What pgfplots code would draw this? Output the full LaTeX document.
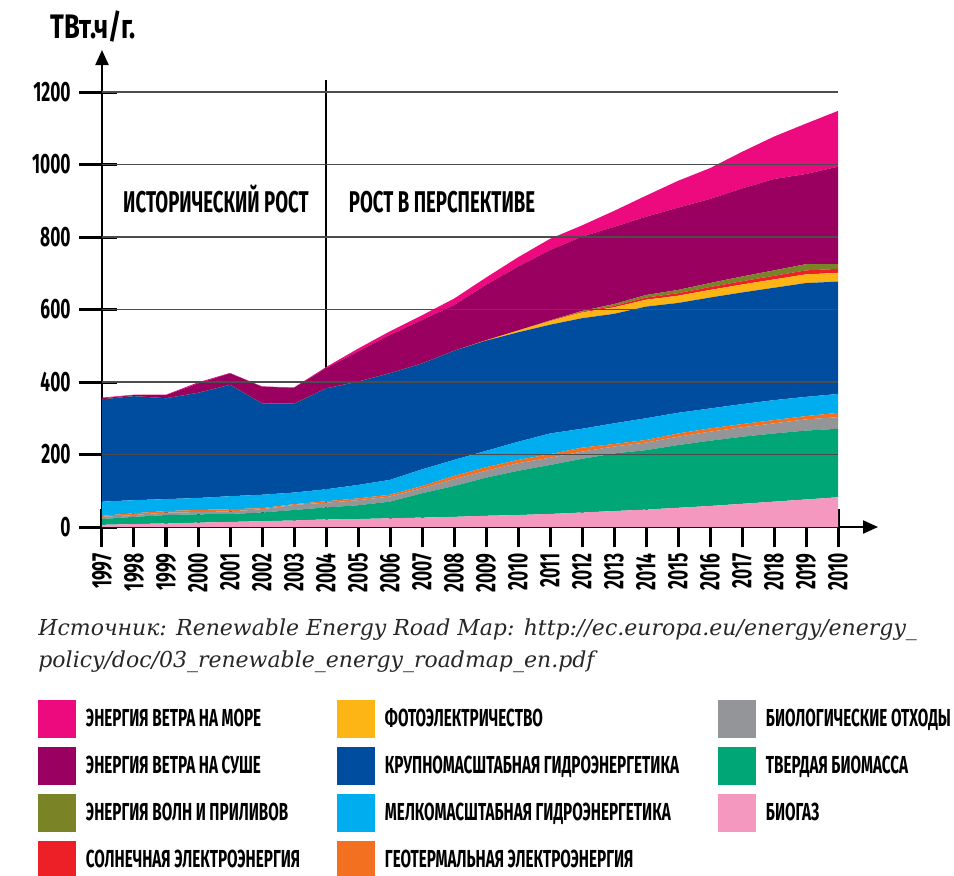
\documentclass[border=0pt]{standalone}
\usepackage{pgfplots}
\pgfplotsset{compat=1.18}
\usepackage{pgfplotstable}
\usepackage{fontspec}
\setmainfont[FakeStretch=0.62]{Fira Sans}
\newfontfamily\unitfont[FakeStretch=0.75]{Fira Sans}
\newfontfamily\srcfont{DejaVu Serif}
\usetikzlibrary{arrows.meta}
\definecolor{cOff}{HTML}{EC0A7E}
\definecolor{cOn}{HTML}{990060}
\definecolor{cWave}{HTML}{7A8427}
\definecolor{cSol}{HTML}{EE2027}
\definecolor{cPV}{HTML}{FDB515}
\definecolor{cLH}{HTML}{004C9E}
\definecolor{cSH}{HTML}{00AEEF}
\definecolor{cGeo}{HTML}{F37021}
\definecolor{cBW}{HTML}{939598}
\definecolor{cBM}{HTML}{00A676}
\definecolor{cBG}{HTML}{F598C0}
\pgfplotstableread{
x  bg  bm  bw geo sh  lh pv st wv  on off
0   6  16   6  3  39 282  0  0  0   3   2
1   8  20   5  5  36 287  0  0  0   3   1
2  10  23   7  4  33 278  0  0  0   9   1
3  12  23   6  6  33 290  0  0  0  26   3
4  14  22   7  6  36 307  0  0  0  32   1
5  16  24   9  3  37 252  0  0  0  46   1
6  18  29  14  2  32 245  0  0  0  44   1
7  21  33  13  4  33 278  0  0  0  56   3
8  22  38  14  5  37 285  0  0  0  83   8
9  24  46  14  5  41 294  0  0  0 106  10
10 26  67  14  6  46 292  0  0  0 120  13
11 28  85  19  9  44 301  0  0  0 126  18
12 31 105  19 10  45 304  1  0  0 153  20
13 33 122  21  9  50 302  5  0  0 176  26
14 36 135  20 10  57 300 10  1  1 194  31
15 40 148  20 11  52 305 16  2  2 205  31
16 44 159  19  7  57 302 18  4  5 213  44
17 48 164  21  7  60 308 19  6  7 216  58
18 53 173  23  9  57 303 20  7  9 227  74
19 58 180  25  9  55 306 21  8 11 232  85
20 64 185  26  9  55 308 22  9 13 243 101
21 70 188  28  9  55 310 23 10 15 252 117
22 76 190  31  9  53 314 24 11 17 249 139
23 82 189  32 12  52 310 24 11 13 269 154
}\datatable
\begin{document}
\begin{tikzpicture}
\useasboundingbox (-51pt,-174pt) rectangle (426pt,263.5pt);
\begin{axis}[
  at={(0,0)}, anchor=south west,
  scale only axis, width=388pt, height=238.5pt,
  xmin=0, xmax=24.25, ymin=0, ymax=1315.9,
  axis lines=left,
  axis line style={line width=1.1pt, -{Triangle[length=7.5pt,width=6.5pt]}},
  stack plots=y,
  xtick={0,...,23},
  xticklabels={1997,1998,1999,2000,2001,2002,2003,2004,2005,2006,2007,2008,2009,2010,2011,2012,2013,2014,2015,2016,2017,2018,2019,2010},
  ytick={0,200,400,600,800,1000,1200},
  yticklabels={0,200,400,600,800,1000,1200},
  /pgf/number format/assume math mode=true,
  tick align=outside,
  major tick length=19pt,
  xtick style={line width=1.5pt, black, yshift=9pt},
  ytick style={line width=1.5pt, black, xshift=7.5pt},
  ticklabel style={font=\bfseries\fontsize{14}{16}\selectfont},
  xticklabel style={rotate=90, anchor=east, inner sep=0pt, xshift=6pt},
  yticklabel style={anchor=east, inner sep=0pt, xshift=3.5pt},
  legend columns=3,
  legend cell align=left,
  legend image code/.code={\fill[#1] (0pt,-9.5pt) rectangle (19pt,9.5pt);},
  legend style={draw=none, fill=none, at={(-0.08247,-0.36268)}, anchor=north west,
    inner sep=0pt, outer sep=0pt, row sep=4.5pt,
    font=\bfseries\fontsize{12.3}{14}\selectfont,
    nodes={inner sep=0pt, outer sep=0pt},
    /tikz/column 1/.style={column sep=5pt},
    /tikz/column 2/.style={nodes={text width=125.5pt, align=left, execute at begin node={\spaceskip=0pt\xspaceskip=0pt}}},
    /tikz/column 3/.style={column sep=5pt},
    /tikz/column 4/.style={nodes={text width=166.5pt, align=left, execute at begin node={\spaceskip=0pt\xspaceskip=0pt}}},
    /tikz/column 5/.style={column sep=5pt}},
]
\foreach \g in {200,400,...,1200} {
  \edef\tmp{\noexpand\draw[black!70, line width=0.6pt] (axis cs:0,\g) -- (axis cs:23,\g);}\tmp
}
\addplot[fill=cBG, draw=none, forget plot] table[x=x, y=bg] {\datatable} \closedcycle;
\addplot[fill=cBM, draw=none, forget plot] table[x=x, y=bm] {\datatable} \closedcycle;
\addplot[fill=cBW, draw=none, forget plot] table[x=x, y=bw] {\datatable} \closedcycle;
\addplot[fill=cGeo, draw=none, forget plot] table[x=x, y=geo] {\datatable} \closedcycle;
\addplot[fill=cSH, draw=none, forget plot] table[x=x, y=sh] {\datatable} \closedcycle;
\addplot[fill=cLH, draw=none, forget plot] table[x=x, y=lh] {\datatable} \closedcycle;
\addplot[fill=cPV, draw=none, forget plot] table[x=x, y=pv] {\datatable} \closedcycle;
\addplot[fill=cSol, draw=none, forget plot] table[x=x, y=st] {\datatable} \closedcycle;
\addplot[fill=cWave, draw=none, forget plot] table[x=x, y=wv] {\datatable} \closedcycle;
\addplot[fill=cOn, draw=none, forget plot] table[x=x, y=on] {\datatable} \closedcycle;
\addplot[fill=cOff, draw=none, forget plot] table[x=x, y=off] {\datatable} \closedcycle;
\draw[black, line width=0.75pt] (axis cs:7,0) -- (axis cs:7,1233);
\addlegendimage{fill=cOff, draw=none}
\addlegendentry{ЭНЕРГИЯ ВЕТРА НА МОРЕ}
\addlegendimage{fill=cPV, draw=none}
\addlegendentry{ФОТОЭЛЕКТРИЧЕСТВО}
\addlegendimage{fill=cBW, draw=none}
\addlegendentry{БИОЛОГИЧЕСКИЕ ОТХОДЫ}
\addlegendimage{fill=cOn, draw=none}
\addlegendentry{ЭНЕРГИЯ ВЕТРА НА СУШЕ}
\addlegendimage{fill=cLH, draw=none}
\addlegendentry{КРУПНОМАСШТАБНАЯ ГИДРОЭНЕРГЕТИКА}
\addlegendimage{fill=cBM, draw=none}
\addlegendentry{ТВЕРДАЯ БИОМАССА}
\addlegendimage{fill=cWave, draw=none}
\addlegendentry{ЭНЕРГИЯ ВОЛН И ПРИЛИВОВ}
\addlegendimage{fill=cSH, draw=none}
\addlegendentry{МЕЛКОМАСШТАБНАЯ ГИДРОЭНЕРГЕТИКА}
\addlegendimage{fill=cBG, draw=none}
\addlegendentry{БИОГАЗ}
\addlegendimage{fill=cSol, draw=none}
\addlegendentry{СОЛНЕЧНАЯ ЭЛЕКТРОЭНЕРГИЯ}
\addlegendimage{fill=cGeo, draw=none}
\addlegendentry{ГЕОТЕРМАЛЬНАЯ ЭЛЕКТРОЭНЕРГИЯ}
\end{axis}
\node[anchor=base west, inner sep=0pt, font=\unitfont\bfseries\fontsize{17}{19}\selectfont] at (-26pt,244.5pt) {ТВт.ч/г.};
\node[anchor=base, inner sep=0pt, font=\bfseries\fontsize{15}{17}\selectfont] at (57pt,157.5pt) {ИСТОРИЧЕСКИЙ РОСТ};
\node[anchor=base, inner sep=0pt, font=\bfseries\fontsize{15}{17}\selectfont] at (170pt,157.5pt) {РОСТ В ПЕРСПЕКТИВЕ};
\node[anchor=base west, inner sep=0pt, font=\srcfont\itshape\fontsize{11}{13}\selectfont, text=black!85] at (-32pt,-54pt) {Источник: Renewable Energy Road Map: http://ec.europa.eu/energy/energy\_};
\node[anchor=base west, inner sep=0pt, font=\srcfont\itshape\fontsize{11}{13}\selectfont, text=black!85] at (-32pt,-70pt) {policy/doc/03\_renewable\_energy\_roadmap\_en.pdf};
\end{tikzpicture}
\end{document}
